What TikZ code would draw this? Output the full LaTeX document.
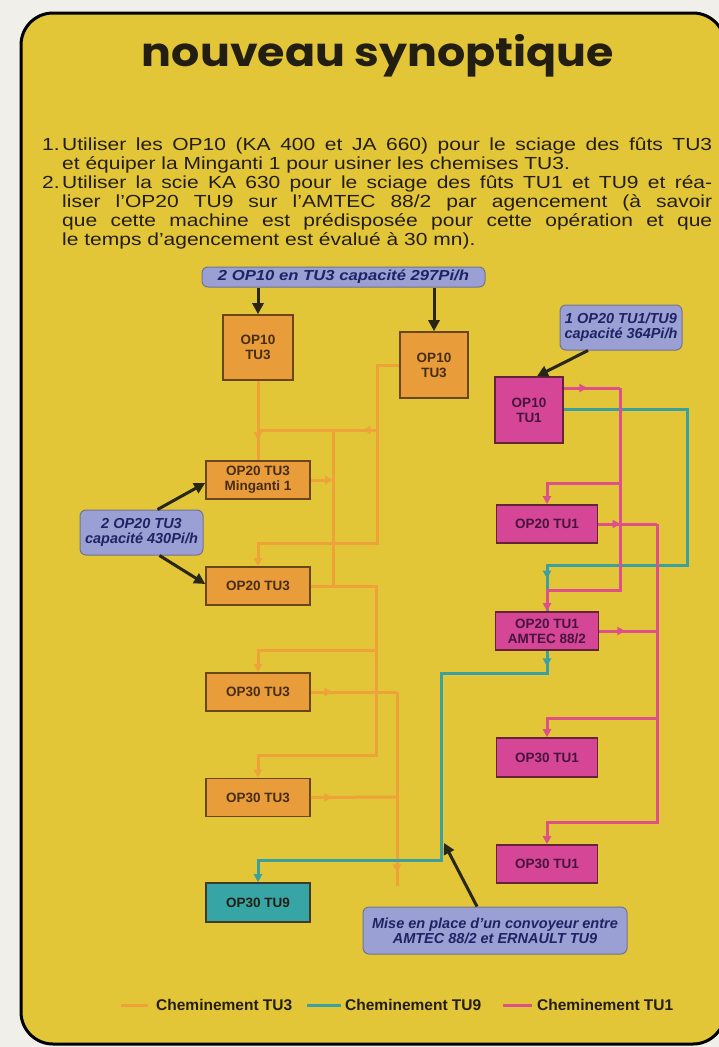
\documentclass[tikz,border=0pt]{standalone}
\usepackage{fontspec}
\usepackage{graphicx}
\setmainfont{Liberation Sans}
\newfontfamily\titlefont{Poppins}
\usetikzlibrary{arrows.meta,decorations.markings}

\definecolor{bgout}{RGB}{240,239,234}
\definecolor{panel}{RGB}{227,197,56}
\definecolor{oline}{RGB}{238,163,58}
\definecolor{oboxc}{RGB}{232,156,58}
\definecolor{oborder}{RGB}{105,70,28}
\definecolor{pline}{RGB}{222,80,138}
\definecolor{pboxc}{RGB}{214,70,150}
\definecolor{pborder}{RGB}{100,35,55}
\definecolor{ptext}{RGB}{70,20,60}
\definecolor{tline}{RGB}{58,160,160}
\definecolor{tboxc}{RGB}{55,165,165}
\definecolor{tborder}{RGB}{60,60,40}
\definecolor{callfill}{RGB}{155,160,212}
\definecolor{callborder}{RGB}{115,115,145}
\definecolor{calltext}{RGB}{30,35,100}
\definecolor{ink}{RGB}{70,45,20}
\definecolor{textink}{RGB}{35,30,18}
\definecolor{karrow}{RGB}{40,38,20}

\newcommand{\bodyfont}{\fontsize{17.5}{19}\selectfont}
\newcommand{\justline}[1]{\scalebox{1.2}[1]{\makebox[541.7pt][s]{#1}}}
\newcommand{\natline}[1]{\scalebox{1.2}[1]{#1}}

\tikzset{
  boxbase/.style={line width=1.6pt, inner sep=0pt, align=center,
    font=\fontsize{13.5}{15}\selectfont\bfseries},
  obx/.style={boxbase, draw=oborder, fill=oboxc, text=ink},
  pbx/.style={boxbase, draw=pborder, fill=pboxc, text=ptext},
  tbx/.style={boxbase, draw=tborder, fill=tboxc, text=textink},
  call/.style={draw=callborder, line width=1pt, fill=callfill, rounded corners=6pt,
    text=calltext, align=center, inner sep=0pt,
    font=\fontsize{14.5}{15}\selectfont\bfseries\itshape},
  ol/.style={color=oline, line width=3pt},
  pl/.style={color=pline, line width=3pt},
  tl/.style={color=tline, line width=3pt},
  tip/.style={-{Triangle[length=8pt,width=8pt]}},
  marrow/.style={postaction={decorate}, decoration={markings,
    mark=at position #1 with {\arrow{Triangle[length=8pt,width=8pt]}}}},
  marrow/.default=0.5,
  ka/.style={draw=karrow, line width=3pt, -{Triangle[length=11pt,width=11pt]}},
  bodytext/.style={anchor=base west, inner sep=0pt, text=textink},
  legtext/.style={anchor=west, inner sep=0pt, text=textink,
    font=\fontsize{15.5}{16}\selectfont\bfseries}
}

\begin{document}
\begin{tikzpicture}[x=1pt,y=-1pt]
\useasboundingbox (0,0) rectangle (719,1047);
\fill[bgout] (0,0) rectangle (719,1047);
\draw[line width=3pt, fill=panel, rounded corners=32pt] (21,13) rectangle (725,1044);

% title
\node[anchor=base, inner sep=0pt, text=textink] (title) at (378,66)
  {\resizebox{472pt}{\height}{\titlefont\bfseries\fontsize{40}{42}\selectfont nouveau synoptique}};

% body text
\node[bodytext] (n1) at (42,150) {\bodyfont\natline{1.}};
\node[bodytext] (t1) at (62,150) {\bodyfont\justline{Utiliser les OP10 (KA 400 et JA 660) pour le sciage des fûts TU3}};
\node[bodytext] (t2) at (62,169) {\bodyfont\natline{et équiper la Minganti 1 pour usiner les chemises TU3.}};
\node[bodytext] (n2) at (42,188) {\bodyfont\natline{2.}};
\node[bodytext] (t3) at (62,188) {\bodyfont\justline{Utiliser la scie KA 630 pour le sciage des fûts TU1 et TU9 et réa-}};
\node[bodytext] (t4) at (62,207) {\bodyfont\justline{liser l'OP20 TU9 sur l'AMTEC 88/2 par agencement (à savoir}};
\node[bodytext] (t5) at (62,226) {\bodyfont\justline{que cette machine est prédisposée pour cette opération et que}};
\node[bodytext] (t6) at (62,245) {\bodyfont\natline{le temps d'agencement est évalué à 30 mn).}};

% boxes
\node[obx, minimum width=70pt, minimum height=65pt] (o10a) at (258,347.5) {OP10\\TU3};
\node[obx, minimum width=68pt, minimum height=66pt] (o10b) at (434,365) {OP10\\TU3};
\node[obx, minimum width=104pt, minimum height=38pt] (o20m) at (258,480) {OP20 TU3\\Minganti 1};
\node[obx, minimum width=104pt, minimum height=38pt] (o20) at (258,586) {OP20 TU3};
\node[obx, minimum width=104pt, minimum height=38pt] (o30a) at (258,692) {OP30 TU3};
\node[obx, minimum width=104pt, minimum height=38pt] (o30b) at (258,797.5) {OP30 TU3};
\node[tbx, minimum width=104pt, minimum height=39pt] (t30) at (258,902.5) {OP30 TU9};

\node[pbx, minimum width=68pt, minimum height=66pt] (p10) at (529,410) {OP10\\TU1};
\node[pbx, minimum width=101pt, minimum height=38pt] (p20) at (547,524) {OP20 TU1};
\node[pbx, minimum width=103pt, minimum height=38pt] (pam) at (547,631) {OP20 TU1\\AMTEC 88/2};
\node[pbx, minimum width=101pt, minimum height=39pt] (p30a) at (547,757.5) {OP30 TU1};
\node[pbx, minimum width=101pt, minimum height=38pt] (p30b) at (547,864) {OP30 TU1};

% callouts
\node[call, minimum width=283pt, minimum height=20pt] (cTop) at (343.5,277) {\scalebox{1.15}[1]{2 OP10 en TU3 capacité 297Pi/h}};
\node[call, minimum width=123pt, minimum height=45pt] (c20) at (141.5,532.5) {2 OP20 TU3\\capacité 430Pi/h};
\node[call, minimum width=122pt, minimum height=45pt] (cT1) at (621,327.5) {1 OP20 TU1/TU9\\capacité 364Pi/h};
\node[call, minimum width=264pt, minimum height=47pt] (cMise) at (495,930.5) {Mise en place d'un convoyeur entre\\AMTEC 88/2 et ERNAULT TU9};

% ---- orange flows (TU3)
\draw[ol, marrow=0.75] (o10a.south) -- (o20m.north);
\draw[ol, tip] (o10b.west) -- (377,365) -- (377,543) -- (258,543) -- (o20.north);
\draw[ol, marrow=0.12] (377,430) -- (258,430);
\draw[ol] (333,430) -- (333,586);
\draw[ol, tip] (o20m.east) -- (333,480);
\draw[ol, tip] (o20.east) -- (376,586) -- (376,755) -- (258,755) -- (o30b.north);
\draw[ol, tip] (376,650) -- (258,650) -- (o30a.north);
\draw[ol, marrow=0.25] (o30a.east) -- (397,692);
\draw[ol, marrow=0.25] (o30b.east) -- (397,797);
\coordinate (oEnd) at (397,886);
\draw[ol, marrow=0.93] (397,692) -- (oEnd);

% ---- teal flows (TU9)
\draw[tl, marrow=0.93] ([yshift=1pt]p10.east) -- (687,409) -- (687,565) -- (547,565) -- (pam.north);
\coordinate (tHit) at (441,843);
\draw[tl, tip, marrow=0.03] (pam.south) -- (547,673) -- (441,673) -- (tHit) -- (441,860) -- (258,860) -- (t30.north);

% ---- pink flows (TU1)
\draw[pl, marrow=0.42] ([yshift=22pt]p10.east) -- (620,388);
\draw[pl, tip] (620,388) -- (620,590) -- (547,590) -- (pam.north);
\draw[pl, tip] (620,483) -- (547,483) -- (p20.north);
\draw[pl, marrow=0.38] (p20.east) -- (657,524);
\draw[pl, tip] (657,524) -- (657,822) -- (547,822) -- (p30b.north);
\draw[pl, tip] (657,718) -- (547,718) -- (p30a.north);
\draw[pl, marrow=0.45] (pam.east) -- (657,631);

% ---- black callout arrows
\draw[ka] (cTop.south -| o10a.north) -- (o10a.north);
\draw[ka] (cTop.south -| o10b.north) -- (o10b.north);
\draw[ka] ([xshift=-33pt]cT1.south) -- ([xshift=8pt]p10.north);
\draw[ka] ([xshift=16pt]c20.north) -- ([yshift=-3pt]o20m.west);
\draw[ka] ([xshift=18pt]c20.south) -- ([yshift=2pt]o20.west);
\draw[ka] ([xshift=-18pt]cMise.north) -- ([xshift=3pt]tHit);

% ---- legend
\draw[ol] (121,1005) -- (148,1005);
\node[legtext] (lg1) at (156,1005) {Cheminement TU3};
\draw[tl] (307,1005) -- (341,1005);
\node[legtext] (lg2) at (345,1005) {Cheminement TU9};
\draw[pl] (503,1005) -- (532,1005);
\node[legtext] (lg3) at (537,1005) {Cheminement TU1};
\end{tikzpicture}
\end{document}
